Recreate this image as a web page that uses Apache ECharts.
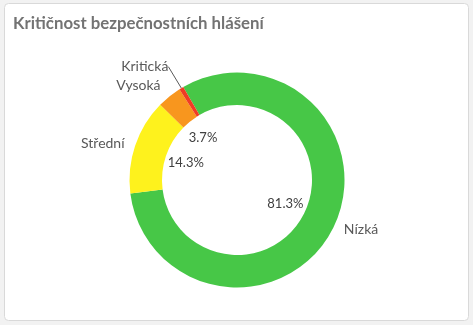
<!DOCTYPE html>
<html>
<head>
<meta charset="utf-8">
<script src="https://cdn.jsdelivr.net/npm/echarts@6/dist/echarts.min.js"></script>
<style>
html,body{margin:0;padding:0;background:#f2f2f2;}
#chart{width:473px;height:325px;}
</style>
</head>
<body>
<div id="chart"></div>
<script>
const title = 'Kritičnost bezpečnostních hlášení';
const categories = ['Nízká', 'Střední', 'Vysoká', 'Kritická'];
const values = [244, 43, 11, 2];
const colors = ['#47c747', '#fef21d', '#f8961e', '#f03c24'];

const chart = echarts.init(document.getElementById('chart'));
const font = 'Lato, "Noto Sans", sans-serif';

const lineLen = { 'Nízká': [4, 7], 'Střední': [8, 3], 'Vysoká': [14, 0], 'Kritická': [25, 0] };

const ringData = categories.map((c, i) => ({
  name: c, value: values[i],
  itemStyle: { color: colors[i] },
  labelLine: { show: c === 'Kritická', length: lineLen[c][0], length2: lineLen[c][1] }
}));
const pctData = categories.map((c, i) => ({
  name: c, value: values[i],
  label: { show: c !== 'Kritická' }
}));

chart.setOption({
  animation: false,
  graphic: [{
    type: 'rect', z: -10,
    shape: { x: 4.5, y: 3.5, width: 464, height: 317, r: 4 },
    style: { fill: '#ffffff', stroke: '#d9d9d9', lineWidth: 1 }
  }],
  title: {
    text: title, left: 8, top: 10,
    textStyle: { fontFamily: font, fontSize: 16.8, fontWeight: 'bold', color: '#737373' }
  },
  series: [
    {
      type: 'pie', center: [237, 180], radius: [75, 107.5],
      startAngle: 120, clockwise: true, silent: true,
      avoidLabelOverlap: true,
      data: ringData,
      label: { show: true, formatter: '{b}', color: '#595959', fontFamily: font, fontSize: 14, distanceToLabelLine: 0 },
      labelLine: { lineStyle: { color: '#595959', width: 1 } },
      emphasis: { disabled: true }
    },
    {
      type: 'pie', center: [237, 180], radius: [0, 102],
      startAngle: 120, clockwise: true, silent: true,
      data: pctData,
      itemStyle: { color: 'rgba(0,0,0,0)' },
      label: {
        position: 'inside', color: '#404040', fontFamily: font, fontSize: 13,
        formatter: p => p.percent.toFixed(1) + '%'
      },
      labelLine: { show: false },
      emphasis: { disabled: true }
    }
  ]
});
</script>
</body>
</html>
